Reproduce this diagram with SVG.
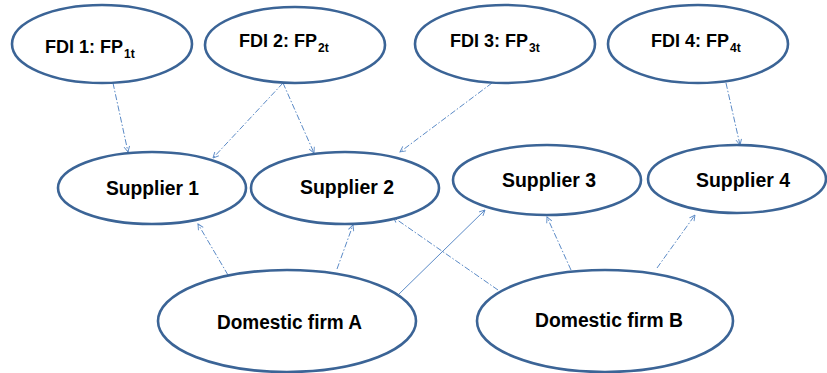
<svg xmlns="http://www.w3.org/2000/svg" width="827" height="373" viewBox="0 0 827 373">
<defs>
<style>
.node ellipse{fill:#fff;stroke:#3B6496;stroke-width:2.6}
.lbl{font-family:"Liberation Sans",Arial,sans-serif;font-weight:bold;font-size:20px;fill:#000}
.fdi{font-size:18px}
.sub{font-size:12px}
.con line{stroke:#5B8AC6;stroke-width:1;fill:none;marker-end:url(#arr)}
.dd{stroke-dasharray:6 2 1.5 2}
</style>
<marker id="arr" viewBox="0 0 10 10" refX="9" refY="5" markerWidth="7" markerHeight="7" markerUnits="userSpaceOnUse" orient="auto">
<path d="M1,1 L9,5 L1,9" fill="none" stroke="#5B8AC6" stroke-width="1.3"/>
</marker>
</defs>
<rect width="827" height="373" fill="#fff"/>
<g class="con">
<line class="dd" x1="113" y1="83" x2="128" y2="152"/>
<line class="dd" x1="283" y1="83" x2="213" y2="158"/>
<line class="dd" x1="283" y1="83" x2="314" y2="153"/>
<line class="dd" x1="492" y1="83" x2="400" y2="152"/>
<line class="dd" x1="726" y1="83" x2="740" y2="145"/>
<line class="dd" x1="228" y1="275" x2="198" y2="224"/>
<line class="dd" x1="337" y1="269" x2="353" y2="225"/>
<line x1="398" y1="295" x2="485" y2="210"/>
<line class="dd" x1="498" y1="290" x2="393" y2="217"/>
<line class="dd" x1="571" y1="270" x2="547" y2="217"/>
<line class="dd" x1="657" y1="268" x2="695" y2="215"/>
</g>
<g id="fdi1" class="node"><ellipse cx="102" cy="44" rx="90" ry="39"/><text class="lbl fdi" x="45" y="53">FDI 1: FP<tspan class="sub" dx="1" dy="5">1t</tspan></text></g>
<g id="fdi2" class="node"><ellipse cx="295" cy="45" rx="90" ry="38"/><text class="lbl fdi" x="239" y="47">FDI 2: FP<tspan class="sub" dx="1" dy="5">2t</tspan></text></g>
<g id="fdi3" class="node"><ellipse cx="505" cy="44" rx="90" ry="39"/><text class="lbl fdi" x="450" y="47">FDI 3: FP<tspan class="sub" dx="1" dy="5">3t</tspan></text></g>
<g id="fdi4" class="node"><ellipse cx="698" cy="44" rx="90" ry="39"/><text class="lbl fdi" x="651" y="47">FDI 4: FP<tspan class="sub" dx="1" dy="5">4t</tspan></text></g>
<g id="supplier1" class="node"><ellipse cx="152" cy="188" rx="94" ry="36"/><text class="lbl" x="106" y="195" textLength="93" lengthAdjust="spacingAndGlyphs">Supplier 1</text></g>
<g id="supplier2" class="node"><ellipse cx="345" cy="188" rx="94" ry="36"/><text class="lbl" x="300" y="194" textLength="94" lengthAdjust="spacingAndGlyphs">Supplier 2</text></g>
<g id="supplier3" class="node"><ellipse cx="547" cy="180" rx="94" ry="35"/><text class="lbl" x="502" y="187" textLength="94" lengthAdjust="spacingAndGlyphs">Supplier 3</text></g>
<g id="supplier4" class="node"><ellipse cx="737" cy="179" rx="89" ry="34"/><text class="lbl" x="696" y="187" textLength="94" lengthAdjust="spacingAndGlyphs">Supplier 4</text></g>
<g id="firmA" class="node"><ellipse cx="287" cy="321" rx="129" ry="51"/><text class="lbl" x="217" y="329" textLength="145" lengthAdjust="spacingAndGlyphs">Domestic firm A</text></g>
<g id="firmB" class="node"><ellipse cx="605" cy="321" rx="128" ry="51"/><text class="lbl" x="535" y="327" textLength="148" lengthAdjust="spacingAndGlyphs">Domestic firm B</text></g>
</svg>
